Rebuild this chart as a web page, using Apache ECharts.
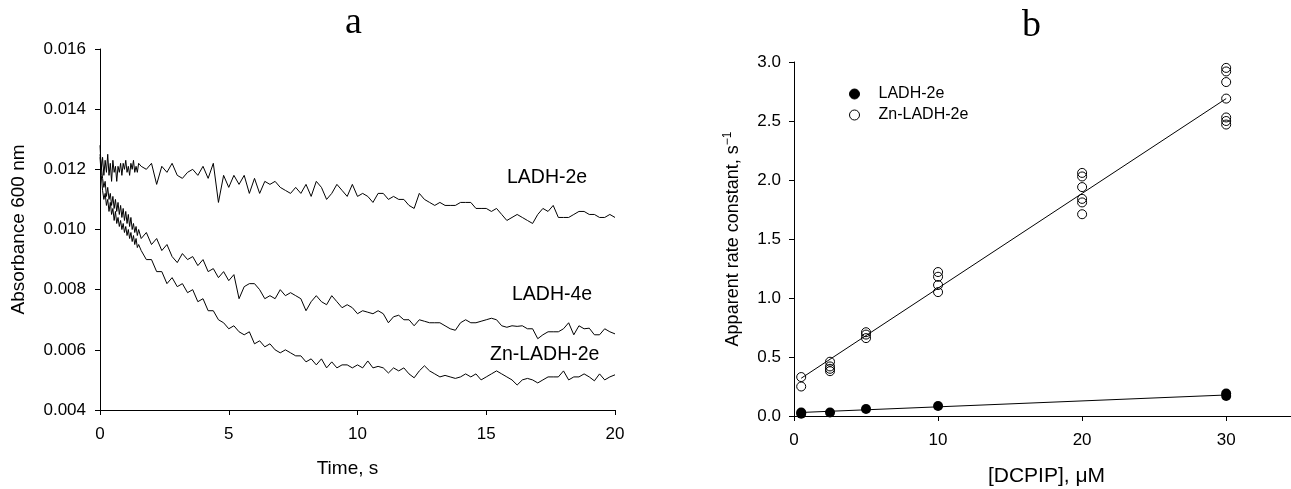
<!DOCTYPE html>
<html>
<head>
<meta charset="utf-8">
<script src="https://cdn.jsdelivr.net/npm/echarts@6/dist/echarts.min.js"></script>
<style>
html,body{margin:0;padding:0;background:#fff;}
#chart{width:1291px;height:489px;}
</style>
</head>
<body>
<div id="chart"></div>
<script>
// ---------- Panel a: absorbance traces ----------
const timeA = [
  0,0.05,0.1,0.15,0.2,0.25,0.3,0.35,0.4,0.45,0.5,0.55,0.6,0.65,0.7,0.75,0.8,0.85,0.9,0.95,
  1,1.05,1.1,1.15,1.2,1.25,1.3,1.35,1.4,1.45,1.5,
  1.6,1.8,2,2.2,2.4,2.6,2.8,3,3.2,3.4,
  3.6,3.8,4,4.2,4.4,4.6,4.8,5,5.2,5.4,
  5.6,5.8,6,6.2,6.4,6.6,6.8,7,7.2,7.4,
  7.6,7.8,8,8.2,8.4,8.6,8.8,9,9.2,9.4,
  9.6,9.8,10,10.2,10.4,10.6,10.8,11,11.2,11.4,
  11.6,11.8,12,12.2,12.4,12.6,12.8,13,13.2,13.4,
  13.6,13.8,14,14.2,14.4,14.6,14.8,15,15.2,15.4,
  15.6,15.8,16,16.2,16.4,16.6,16.8,17,17.2,17.4,
  17.6,17.8,18,18.2,18.4,18.6,18.8,19,19.2,19.4,
  19.6,19.8,20
];
const ladh2e = [
  0.0128,0.0120,0.0124,0.0118,0.0123,0.0119,0.0125,0.0118,0.0122,0.0116,0.0123,0.0119,0.0121,0.0116,0.0121,0.0119,0.0122,0.0118,0.0122,0.0120,
  0.0123,0.0119,0.0121,0.0118,0.0122,0.0120,0.0123,0.0119,0.0121,0.0119,0.0122,
  0.0121,0.0120,0.0122,0.0115,0.0121,0.0119,0.0122,0.0118,0.0117,0.0119,
  0.0120,0.0118,0.0121,0.0117,0.0122,0.0109,0.0118,0.0114,0.0118,0.0115,
  0.0118,0.0112,0.0117,0.0112,0.0116,0.0115,0.0116,0.0114,0.0113,0.0112,
  0.0114,0.0112,0.0115,0.0111,0.0116,0.0114,0.0110,0.0112,0.0115,0.0113,
  0.0111,0.0115,0.0111,0.0112,0.0111,0.0109,0.0112,0.0112,0.0110,0.0111,
  0.0110,0.0110,0.0108,0.0107,0.0112,0.0110,0.0109,0.0108,0.0109,0.0108,
  0.0108,0.0108,0.0109,0.0109,0.0109,0.0107,0.0107,0.0107,0.0106,0.0107,
  0.0105,0.0103,0.0104,0.0105,0.0104,0.0103,0.0102,0.0105,0.0107,0.0106,
  0.0108,0.0104,0.0104,0.0104,0.0105,0.0106,0.0106,0.0105,0.0105,0.0104,
  0.0104,0.0105,0.0104
];
const ladh4e = [
  0.0125,0.0121,0.0117,0.0114,0.0116,0.0111,0.0114,0.0110,0.0112,0.0108,0.0111,0.0107,0.0110,0.0106,0.0109,0.0105,0.0108,0.0104,0.0107,0.0103,
  0.0106,0.0102,0.0105,0.0101,0.0104,0.0100,0.0102,0.0099,0.0101,0.0098,0.0100,
  0.0097,0.0099,0.0095,0.0097,0.0093,0.0095,0.0091,0.0089,0.0092,0.0090,
  0.0091,0.0088,0.0090,0.0086,0.0087,0.0084,0.0086,0.0083,0.0085,0.0077,
  0.0081,0.0082,0.0082,0.0080,0.0077,0.0078,0.0077,0.0080,0.0078,0.0079,
  0.0078,0.0077,0.0073,0.0076,0.0078,0.0076,0.0075,0.0078,0.0076,0.0074,
  0.0075,0.0074,0.0072,0.0073,0.00725,0.0072,0.0073,0.0072,0.0069,0.0071,
  0.00715,0.0070,0.0070,0.0068,0.0070,0.00695,0.0069,0.0069,0.0069,0.0068,
  0.0067,0.00665,0.0069,0.0070,0.0069,0.0069,0.00695,0.0070,0.00705,0.0070,
  0.0068,0.00675,0.0068,0.00678,0.0068,0.0067,0.0067,0.00637,0.0065,0.0066,
  0.0066,0.0066,0.0067,0.0069,0.0065,0.0068,0.0067,0.00672,0.0065,0.0065,
  0.0067,0.0066,0.00653
];
const znLadh2e = [
  0.0124,0.0118,0.0113,0.0110,0.0112,0.0108,0.0110,0.0106,0.0109,0.0105,0.0107,0.0103,0.0106,0.0102,0.0104,0.0101,0.0103,0.0100,0.0102,0.0099,
  0.0101,0.0098,0.0100,0.0097,0.0099,0.0096,0.0098,0.0095,0.0097,0.0094,0.0095,
  0.0093,0.0090,0.0090,0.0086,0.0086,0.0082,0.0084,0.0081,0.0082,0.0079,
  0.0080,0.0076,0.0077,0.0073,0.0073,0.0070,0.0069,0.0067,0.0068,0.0066,
  0.0065,0.0066,0.0062,0.0063,0.0061,0.0062,0.0060,0.0059,0.0060,0.0059,
  0.0058,0.0058,0.0056,0.0057,0.0055,0.0057,0.0054,0.0056,0.0054,0.0055,
  0.0055,0.0054,0.0055,0.0054,0.00563,0.0054,0.00545,0.0054,0.00523,0.0054,
  0.0053,0.0054,0.0052,0.00507,0.0053,0.00547,0.0053,0.0052,0.0051,0.00515,
  0.0051,0.00505,0.0051,0.0052,0.0051,0.0052,0.0050,0.0051,0.0052,0.0053,
  0.0052,0.0051,0.0050,0.00483,0.0050,0.00505,0.0050,0.0049,0.0050,0.0051,
  0.0051,0.0051,0.0053,0.0050,0.0051,0.0051,0.0052,0.0051,0.00497,0.0052,
  0.0050,0.0051,0.00517
];
const traceLabels = ['LADH-2e', 'LADH-4e', 'Zn-LADH-2e'];

// ---------- Panel b: apparent rate constants ----------
const znConc = [0.5,0.5, 2.5,2.5,2.5,2.5, 5,5,5, 10,10,10,10, 20,20,20,20,20,20, 30,30,30,30,30,30,30];
const znRate = [0.33,0.25, 0.46,0.42,0.40,0.38, 0.71,0.69,0.66, 1.22,1.18,1.11,1.05, 2.06,2.03,1.94,1.84,1.81,1.71, 2.95,2.92,2.83,2.69,2.53,2.50,2.47];
const ladhConc = [0.5,0.5,2.5,5,10,30,30];
const ladhRate = [0.02,0.03,0.03,0.06,0.085,0.19,0.17];
const znFitConc = [0.5, 30];
const znFitRate = [0.32, 2.69];
const ladhFitConc = [0.5, 30];
const ladhFitRate = [0.03, 0.178];

const zip = (xs, ys) => xs.map((x, i) => [x, ys[i]]);

const FONT = 'Liberation Sans, Arial, sans-serif';
const axisCommon = {
  axisLine: { show: true, onZero: false, lineStyle: { color: '#000', width: 1 } },
  axisTick: { show: true, inside: false, length: 5, lineStyle: { color: '#000', width: 1 } },
  splitLine: { show: false },
  axisLabel: { color: '#000', fontFamily: FONT, fontSize: 17 }
};

const chart = echarts.init(document.getElementById('chart'), null, { renderer: 'canvas' });
const option = {
  animation: false,
  backgroundColor: '#fff',
  title: [
    { text: 'a', left: 340, top: -1, textStyle: { fontFamily: 'Liberation Serif, Times New Roman, serif', fontSize: 38, fontWeight: 'normal', color: '#000' } },
    { text: 'b', left: 1017, top: 2, textStyle: { fontFamily: 'Liberation Serif, Times New Roman, serif', fontSize: 38, fontWeight: 'normal', color: '#000' } }
  ],
  legend: {
    orient: 'vertical', left: 844, top: 81, itemWidth: 10, itemHeight: 10, itemGap: 5,
    textStyle: { fontFamily: FONT, fontSize: 16, color: '#000', padding: [0, 0, 0, 14] },
    data: [
      { name: 'LADH-2e', icon: 'circle', itemStyle: { color: '#000', borderColor: '#000', borderWidth: 1 } },
      { name: 'Zn-LADH-2e', icon: 'circle', itemStyle: { color: '#fff', borderColor: '#000', borderWidth: 1 } }
    ]
  },
  grid: [
    { left: 100, top: 49, width: 515, height: 361, outerBoundsMode: 'none', containLabel: false },
    { left: 794, top: 62, width: 497, height: 354, outerBoundsMode: 'none', containLabel: false }
  ],
  xAxis: [
    Object.assign({}, axisCommon, {
      gridIndex: 0, type: 'value', min: 0, max: 20, interval: 5,
      axisLabel: Object.assign({}, axisCommon.axisLabel, { margin: 16 }),
      name: 'Time, s', nameLocation: 'middle', nameGap: 49,
      nameTextStyle: { fontFamily: FONT, fontSize: 19, color: '#000', padding: [0, 20, 0, 0] }
    }),
    Object.assign({}, axisCommon, {
      gridIndex: 1, type: 'value', min: 0, max: 34.5, interval: 10,
      axisLabel: Object.assign({}, axisCommon.axisLabel, { margin: 16, formatter: v => (v % 10 === 0 ? String(v) : '') }),
      name: '[DCPIP], \u03bcM', nameLocation: 'middle', nameGap: 50,
      nameTextStyle: { fontFamily: FONT, fontSize: 21, color: '#000', padding: [0, 0, 0, 8] }
    })
  ],
  yAxis: [
    Object.assign({}, axisCommon, {
      gridIndex: 0, type: 'value', min: 0.004, max: 0.016, interval: 0.002,
      axisLabel: Object.assign({}, axisCommon.axisLabel, { margin: 14, formatter: v => v.toFixed(3) }),
      name: 'Absorbance 600 nm', nameLocation: 'middle', nameGap: 72, nameRotate: 90,
      nameTextStyle: { fontFamily: FONT, fontSize: 19, color: '#000' }
    }),
    Object.assign({}, axisCommon, {
      gridIndex: 1, type: 'value', min: 0, max: 3, interval: 0.5,
      axisLabel: Object.assign({}, axisCommon.axisLabel, { margin: 13, formatter: v => v.toFixed(1) }),
      name: '{m|Apparent rate constant, s}{s|\u22121}', nameLocation: 'middle', nameGap: 50, nameRotate: 90,
      nameTextStyle: { fontFamily: FONT, fontSize: 18, color: '#000',
        rich: { m: { fontFamily: FONT, fontSize: 18, color: '#000' },
                s: { fontFamily: FONT, fontSize: 12, color: '#000', verticalAlign: 'top', padding: [0, 0, 10, 0] } } }
    })
  ],
  graphic: [
    { type: 'text', left: 507, top: 168, style: { text: traceLabels[0], font: '19.5px ' + FONT, fill: '#000' } },
    { type: 'text', left: 512, top: 285, style: { text: traceLabels[1], font: '19.5px ' + FONT, fill: '#000' } },
    { type: 'text', left: 490, top: 345, style: { text: traceLabels[2], font: '19.5px ' + FONT, fill: '#000' } }
  ],
  series: [
    { type: 'line', name: traceLabels[0], xAxisIndex: 0, yAxisIndex: 0, data: zip(timeA, ladh2e), showSymbol: false, symbol: 'none', lineStyle: { color: '#000', width: 1 }, itemStyle: { color: '#000' } },
    { type: 'line', name: traceLabels[1], xAxisIndex: 0, yAxisIndex: 0, data: zip(timeA, ladh4e), showSymbol: false, symbol: 'none', lineStyle: { color: '#000', width: 1 }, itemStyle: { color: '#000' } },
    { type: 'line', name: traceLabels[2] + ' trace', xAxisIndex: 0, yAxisIndex: 0, data: zip(timeA, znLadh2e), showSymbol: false, symbol: 'none', lineStyle: { color: '#000', width: 1 }, itemStyle: { color: '#000' } },
    { type: 'line', name: 'fit Zn', xAxisIndex: 1, yAxisIndex: 1, data: zip(znFitConc, znFitRate), symbol: 'none', lineStyle: { color: '#000', width: 1 } },
    { type: 'line', name: 'fit LADH', xAxisIndex: 1, yAxisIndex: 1, data: zip(ladhFitConc, ladhFitRate), symbol: 'none', lineStyle: { color: '#000', width: 1 } },
    { type: 'scatter', name: 'LADH-2e', xAxisIndex: 1, yAxisIndex: 1, data: zip(ladhConc, ladhRate), symbol: 'circle', symbolSize: 10, itemStyle: { color: '#000', opacity: 1 }, z: 5 },
    { type: 'scatter', name: 'Zn-LADH-2e', xAxisIndex: 1, yAxisIndex: 1, data: zip(znConc, znRate), symbol: 'circle', symbolSize: 9, itemStyle: { color: 'rgba(0,0,0,0)', borderColor: '#000', borderWidth: 1, opacity: 1 }, z: 5 }
  ]
};
chart.setOption(option);
</script>
</body>
</html>
